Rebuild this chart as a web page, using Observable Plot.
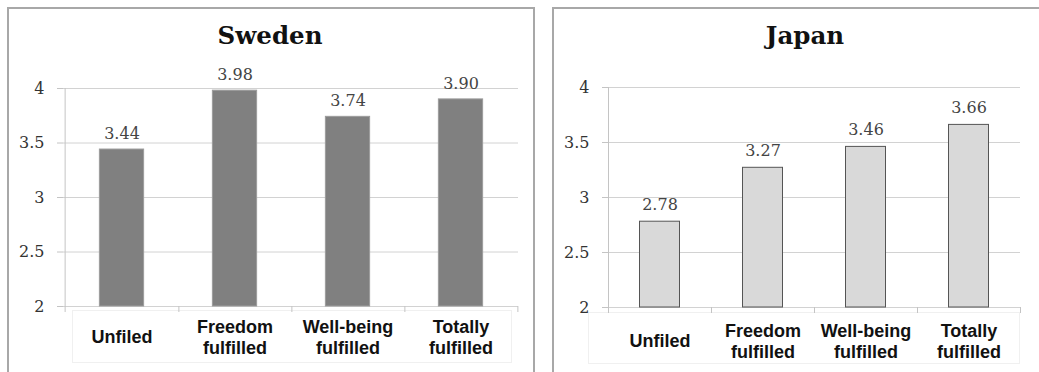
<!DOCTYPE html>
<html>
<head>
<meta charset="utf-8">
<script src="https://cdn.jsdelivr.net/npm/d3@7"></script>
<script src="https://cdn.jsdelivr.net/npm/@observablehq/plot@0.6"></script>
<style>
  html, body { margin: 0; padding: 0; background: #fff; }
  body { position: relative; width: 1039px; height: 372px; overflow: hidden; }
  .panel { position: absolute; box-sizing: border-box; border: 2px solid #a8a8a8; background: #fff; }
  .title { position: absolute; font-family: "DejaVu Serif", serif; font-weight: bold; font-size: 24.5px; line-height: 30px; color: #111; text-align: center; width: 300px; }
  .labelbox { position: absolute; box-sizing: border-box; border: 1px solid #f0f0f0; background: #fff; }
  .chart { position: absolute; }
  .chart svg { overflow: visible; background: transparent; }
</style>
</head>
<body>
<div class="panel" style="left:7px; top:7px; width:528px; height:400px;"></div>
<div class="panel" style="left:552px; top:7px; width:520px; height:400px;"></div>
<div class="labelbox" style="left:72px; top:310px; width:440px; height:53px;"></div>
<div class="labelbox" style="left:588px; top:312px; width:432px; height:52px;"></div>
<div class="title" style="left:120px; top:21px;">Sweden</div>
<div class="title" style="left:655px; top:21px;">Japan</div>
<div id="sweden" class="chart" style="left:9px; top:9px;"></div>
<div id="japan" class="chart" style="left:554px; top:9px;"></div>
<script>
// Mean scores by fulfilment group
const categories = ["Unfiled", "Freedom fulfilled", "Well-being fulfilled", "Totally fulfilled"];
const categoryLabels = ["Unfiled", "Freedom\nfulfilled", "Well-being\nfulfilled", "Totally\nfulfilled"];
const swedenValues = [3.44, 3.98, 3.74, 3.90];
const japanValues = [2.78, 3.27, 3.46, 3.66];
const yTicks = [2, 2.5, 3, 3.5, 4];

function panel({values, width, height, margins, barWidth, fill, stroke, labelDy, catDy}) {
  const data = categories.map((c, i) => ({cat: c, label: categoryLabels[i], value: values[i]}));
  const bw = (width - margins.left - margins.right) / categories.length;
  const inset = (bw - barWidth) / 2;
  return Plot.plot({
    width, height,
    marginLeft: margins.left, marginRight: margins.right,
    marginTop: margins.top, marginBottom: margins.bottom,
    style: {background: "transparent", overflow: "visible"},
    x: {domain: categories, padding: 0, axis: null},
    y: {domain: [2, 4], axis: null},
    marks: [
      // horizontal gridlines
      Plot.ruleY(yTicks, {stroke: "#d2d2d2", strokeWidth: 1}),
      // y axis ticks and labels
      Plot.axisY({
        ticks: yTicks, tickSize: 6, tickPadding: 13,
        stroke: "#c4c4c4", fill: "#333",
        fontFamily: "DejaVu Serif", fontSize: 16,
        tickFormat: d => String(d), label: null
      }),
      // vertical axis line
      Plot.ruleX([categories[0]], {x: d => d, dx: -bw / 2, y1: 4, y2: 2, insetBottom: -6, stroke: "#c4c4c4"}),
      // category separators below the baseline
      Plot.ruleX(categories, {x: d => d, dx: bw / 2, y1: 2, y2: 2, insetBottom: -6, stroke: "#c4c4c4"}),
      Plot.barY(data, {x: "cat", y1: 2, y2: "value", insetLeft: inset, insetRight: inset, fill, stroke, strokeWidth: 1}),
      Plot.text(data, {
        x: "cat", y: "value", text: d => d.value.toFixed(2), dy: labelDy,
        fontFamily: "DejaVu Serif", fontSize: 16, fill: "#444", lineAnchor: "middle"
      }),
      Plot.text(data, {
        x: "cat", text: "label", frameAnchor: "bottom", dy: catDy, lineAnchor: "middle",
        fontFamily: "Liberation Sans", fontWeight: "bold", fontSize: 18, lineHeight: 1.2, fill: "#111"
      })
    ]
  });
}

document.getElementById("sweden").append(panel({
  values: swedenValues, width: 523, height: 363,
  margins: {left: 54, right: 14, top: 79, bottom: 66},
  barWidth: 45, fill: "#808080", stroke: "#9c9c9c", labelDy: -15.5, catDy: 30
}));
document.getElementById("japan").append(panel({
  values: japanValues, width: 485, height: 363,
  margins: {left: 54, right: 19, top: 78, bottom: 65},
  barWidth: 40, fill: "#d9d9d9", stroke: "#555", labelDy: -17, catDy: 33
}));
</script>
</body>
</html>
